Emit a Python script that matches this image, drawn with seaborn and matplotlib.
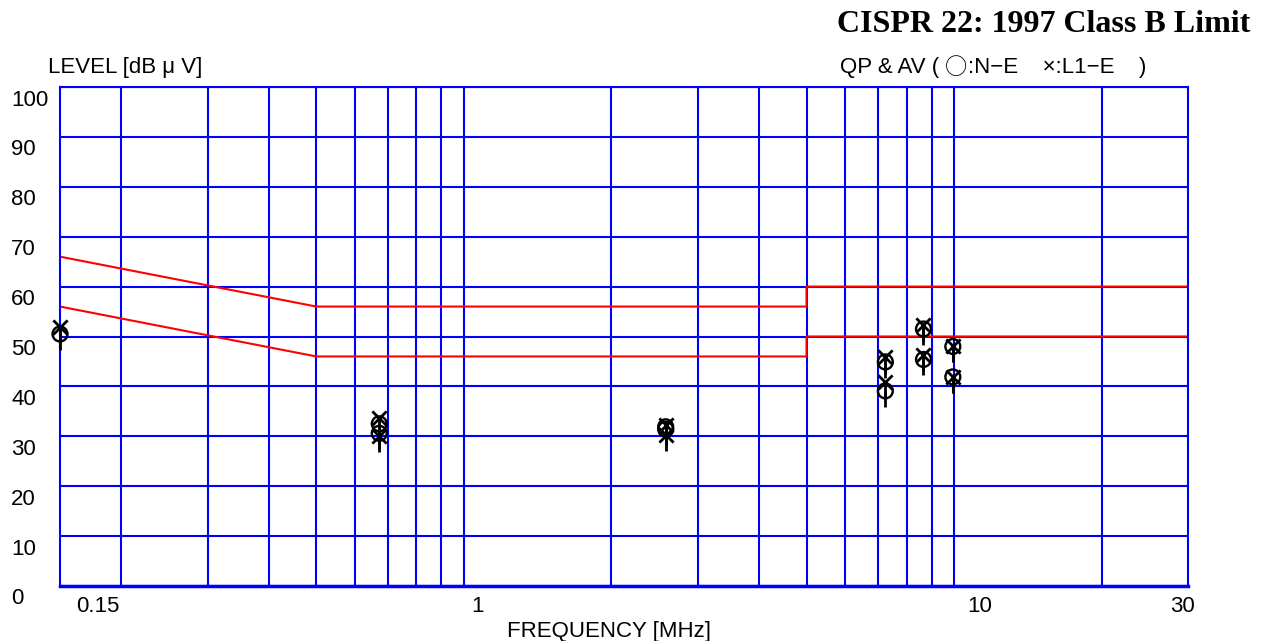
import numpy as np
import pandas as pd
import matplotlib
matplotlib.use("Agg")
import matplotlib.pyplot as plt
import matplotlib.transforms as mtransforms
import seaborn as sns

# ---------------- data ----------------
limit_freq = [0.15, 0.5, 5, 5, 30]
qp_limit = [66, 56, 56, 60, 60]
av_limit = [56, 46, 46, 50, 50]

meas_freq = [0.15, 0.672, 2.58, 7.24, 8.66, 9.94]
qp_ne = [50.5, 32.5, 31.9, 44.9, 51.5, 48.0]
av_ne = [np.nan, 30.6, 31.4, 39.1, 45.4, 41.9]
qp_l1 = [52.0, 33.6, 32.3, 45.9, 52.3, 48.1]
av_l1 = [np.nan, 30.1, 30.3, 40.9, 46.3, 41.9]

grid_freqs = [0.2, 0.3, 0.4, 0.5, 0.6, 0.7, 0.8, 0.9, 1, 2, 3, 4, 5, 6, 7, 8, 9, 10, 20]
x_labels = ["0.15", "1", "10", "30"]
x_label_pos = [0.179, 1.068, 11.3, 29.2]
y_ticks = list(range(0, 101, 10))

# ---------------- figure ----------------
sns.set_style("white")
plt.rcParams["font.family"] = ["Liberation Sans", "DejaVu Sans"]
plt.rcParams["text.color"] = "black"

W, H = 1270, 641
fig = plt.figure(figsize=(W / 100, H / 100), dpi=100)
ax = fig.add_axes([60 / W, (H - 586) / H, (1188 - 60) / W, (586 - 87) / H])

ax.set_xscale("log")
ax.set_xlim(0.15, 30)
ax.set_ylim(0, 100)

ax.set_xticks(grid_freqs)
ax.set_xticks([], minor=True)
ax.set_xticklabels([])
ax.set_yticks(y_ticks)
ax.set_yticklabels([])
ax.tick_params(length=0)
ax.grid(True, color="#0000ff", linewidth=1.5)
ax.set_axisbelow(True)
for s in ax.spines.values():
    s.set_color("#0000ff")
    s.set_linewidth(1.5)
ax.spines["bottom"].set_linewidth(2.5)

# limit lines
lim = pd.DataFrame({"freq": limit_freq, "qp": qp_limit, "av": av_limit})
sns.lineplot(data=lim, x="freq", y="qp", sort=False, estimator=None,
             color="red", linewidth=1.5, ax=ax)
sns.lineplot(data=lim, x="freq", y="av", sort=False, estimator=None,
             color="red", linewidth=1.5, ax=ax)

# measurements
meas = pd.DataFrame({
    "freq": meas_freq * 4,
    "level": qp_ne + av_ne + qp_l1 + av_l1,
    "line": ["N-E"] * 12 + ["L1-E"] * 12,
}).dropna()

stick = 3.2
ax.vlines(meas["freq"], meas["level"] - stick, meas["level"], color="black",
          linewidth=2, zorder=4, clip_on=False)
ne = meas[meas["line"] == "N-E"]
l1 = meas[meas["line"] == "L1-E"]
sns.scatterplot(data=ne, x="freq", y="level", marker="o", s=115,
                facecolors="none", edgecolor="black", linewidth=1.7,
                ax=ax, zorder=5, legend=False, clip_on=False)
sns.scatterplot(data=l1, x="freq", y="level", marker="x", s=105,
                color="black", linewidth=2.0, ax=ax, zorder=5, legend=False,
                clip_on=False)
ax.set_xlabel("")
ax.set_ylabel("")

fs = 16
# y labels (left aligned at page edge, shifted below grid line)
ytrans = mtransforms.blended_transform_factory(fig.transFigure, ax.transData) + \
    mtransforms.ScaledTranslation(0, -13 / 100, fig.dpi_scale_trans)
for v in y_ticks:
    fig.text(11 / W, v, str(v), transform=ytrans, ha="left", va="center",
             fontsize=fs)

# x labels
xtrans = mtransforms.blended_transform_factory(ax.transData, fig.transFigure)
for lab, pos in zip(x_labels, x_label_pos):
    ax.text(pos, (H - 607) / H, lab, transform=xtrans, ha="center",
            va="center", fontsize=fs)

fig.text(609 / W, (H - 632) / H, "FREQUENCY [MHz]", ha="center", va="center",
         fontsize=fs)
fig.text(48 / W, (H - 68) / H, "LEVEL [dB \u03bc V]",
         ha="left", va="center", fontsize=fs)

# legend-like caption, built from pieces so the circle is full width
pieces = [("QP & AV ( ", ["Liberation Sans"]),
          ("\u25cb", ["Noto Sans CJK JP"]),
          (":N\u2212E    \u00d7:L1\u2212E    )", ["Liberation Sans", "DejaVu Sans"])]
renderer = fig.canvas.get_renderer()
xpix = 840
for txt, fam in pieces:
    t = fig.text(xpix / W, (H - 68) / H, txt, ha="left", va="center",
                 fontsize=fs, family=fam)
    xpix += t.get_window_extent(renderer).width

fig.text(1250 / W, (H - 24) / H, "CISPR 22: 1997 Class B Limit",
         ha="right", va="center", fontsize=23, fontweight="bold",
         family=["Liberation Serif", "DejaVu Serif"])

fig.savefig("out.png", dpi=100)
